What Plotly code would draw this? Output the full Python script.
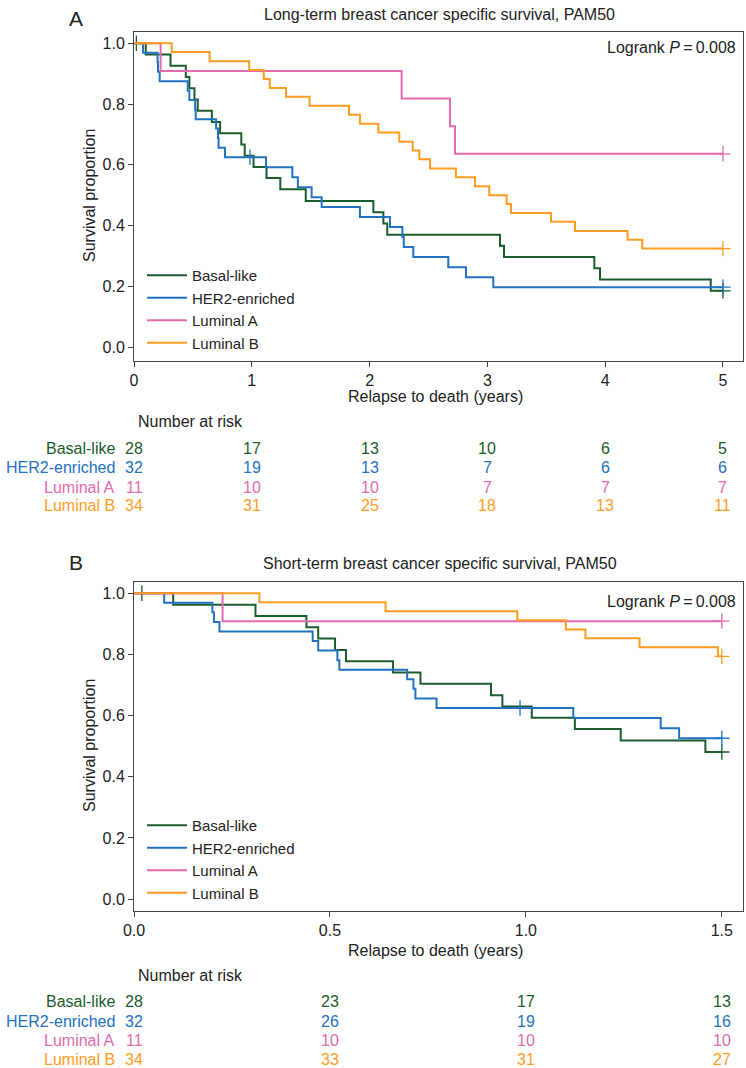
import plotly.graph_objects as go

# ---------------- data ----------------
groups = ["Basal-like", "HER2-enriched", "Luminal A", "Luminal B"]
colors = ["#1b5c2d", "#2272c3", "#e36aae", "#ff9c1f"]

basal_times = [0.10, 0.31, 0.44, 0.47, 0.513, 0.541, 0.661, 0.731, 0.911, 0.94, 1.015,
               1.125, 1.242, 1.458, 2.032, 2.117, 2.15, 3.107, 3.141, 3.908, 3.956, 4.896]
basal_surv = [0.963, 0.926, 0.889, 0.852, 0.815, 0.778, 0.741, 0.704, 0.667, 0.630, 0.593,
              0.556, 0.519, 0.481, 0.444, 0.407, 0.370, 0.333, 0.296, 0.259, 0.222, 0.185]
basal_censor = [0.02]

her2_times = [0.077, 0.20, 0.204, 0.218, 0.456, 0.47, 0.519, 0.524, 0.697, 0.713, 0.718,
              0.772, 1.121, 1.344, 1.391, 1.508, 1.593, 1.918, 2.173, 2.278, 2.29, 2.371,
              2.668, 2.818, 3.05]
her2_surv = [0.969, 0.938, 0.906, 0.875, 0.844, 0.813, 0.781, 0.750, 0.719, 0.688, 0.656,
             0.625, 0.592, 0.559, 0.526, 0.493, 0.461, 0.428, 0.395, 0.362, 0.329, 0.296,
             0.263, 0.230, 0.197]
her2_censor = [0.985]

luma_times = [0.226, 2.272, 2.683, 2.725]
luma_surv = [0.909, 0.818, 0.727, 0.636]
luma_censor = []

lumb_times = [0.32, 0.642, 0.978, 1.102, 1.152, 1.29, 1.49, 1.825, 1.918, 2.074, 2.252,
              2.366, 2.422, 2.513, 2.733, 2.895, 3.016, 3.164, 3.20, 3.54, 3.744, 4.19, 4.315]
lumb_surv = [0.971, 0.941, 0.912, 0.882, 0.853, 0.824, 0.794, 0.765, 0.735, 0.706, 0.676,
             0.647, 0.618, 0.588, 0.559, 0.529, 0.500, 0.471, 0.441, 0.412, 0.382, 0.353, 0.324]
lumb_censor = []

end_A = 5.0
end_B = 1.5

risk_times_A = [0, 1, 2, 3, 4, 5]
risk_basal_A = [28, 17, 13, 10, 6, 5]
risk_her2_A = [32, 19, 13, 7, 6, 6]
risk_luma_A = [11, 10, 10, 7, 7, 7]
risk_lumb_A = [34, 31, 25, 18, 13, 11]

risk_times_B = [0, 0.5, 1.0, 1.5]
risk_basal_B = [28, 23, 17, 13]
risk_her2_B = [32, 26, 19, 16]
risk_luma_B = [11, 10, 10, 10]
risk_lumb_B = [34, 33, 31, 27]

title_A = "Long-term breast cancer specific survival, PAM50"
title_B = "Short-term breast cancer specific survival, PAM50"
xtitle = "Relapse to death (years)"
ytitle = "Survival proportion"
logrank = "Logrank <i>P</i>\u2009=\u20090.008"

series = [
    (basal_times, basal_surv, basal_censor),
    (her2_times, her2_surv, her2_censor),
    (luma_times, luma_surv, luma_censor),
    (lumb_times, lumb_surv, lumb_censor),
]
risk_A = [risk_basal_A, risk_her2_A, risk_luma_A, risk_lumb_A]
risk_B = [risk_basal_B, risk_her2_B, risk_luma_B, risk_lumb_B]

# ---------------- helpers ----------------
def surv_at(times, surv, t):
    s = 1.0
    for ti, si in zip(times, surv):
        if ti <= t:
            s = si
    return s

def step_xy(times, surv, end):
    xs, ys = [0.0], [1.0]
    for ti, si in zip(times, surv):
        if ti <= end:
            xs.append(ti)
            ys.append(si)
    xs.append(end)
    ys.append(ys[-1])
    return xs, ys

FONT = "Liberation Sans, Arial, Helvetica, sans-serif"
TXT = "#222222"
W, H = 746, 1068
FS = 16

fig = go.Figure()

for panel, (end, xa, ya, leg) in enumerate([(end_A, "x", "y", "legend"),
                                             (end_B, "x2", "y2", "legend2")]):
    for g, col, (tt, ss, cc) in zip(groups, colors, series):
        xs, ys = step_xy(tt, ss, end)
        fig.add_trace(go.Scatter(
            x=xs, y=ys, mode="lines", line=dict(color=col, width=2, shape="hv"),
            name=g, xaxis=xa, yaxis=ya, legend=leg, showlegend=True, hoverinfo="skip"))
        cens = [c for c in cc if c <= end] + [end]
        fig.add_trace(go.Scatter(
            x=cens, y=[surv_at(tt, ss, c) for c in cens], mode="markers",
            marker=dict(symbol="cross-thin", size=11, line=dict(color=col, width=1.3)),
            xaxis=xa, yaxis=ya, showlegend=False, hoverinfo="skip"))

def py(px):
    return 1 - px / H

def pxx(px):
    return px / W

axis_common = dict(showline=True, linecolor="#444444", linewidth=1, mirror=True,
                   ticks="outside", ticklen=5, tickcolor="#444444", showgrid=False,
                   zeroline=False, automargin=False,
                   tickfont=dict(family=FONT, size=FS, color=TXT))

leg_common = dict(xanchor="left", yanchor="bottom", bgcolor="rgba(0,0,0,0)",
                  font=dict(family=FONT, size=15, color=TXT), itemwidth=40,
                  tracegroupgap=0)

fig.update_layout(
    width=W, height=H, margin=dict(l=0, r=0, t=0, b=0, pad=0),
    paper_bgcolor="white", plot_bgcolor="white",
    font=dict(family=FONT, color=TXT, size=FS),
    xaxis=dict(domain=[pxx(134), pxx(743)], range=[0, 5.17], anchor="y",
               tickvals=[0, 1, 2, 3, 4, 5], **axis_common),
    yaxis=dict(domain=[py(361), py(31.7)], range=[-0.046, 1.038], anchor="x",
               tickvals=[0, 0.2, 0.4, 0.6, 0.8, 1.0], tickformat=".1f", **axis_common),
    xaxis2=dict(domain=[pxx(134), pxx(743)], range=[0, 1.554], anchor="y2",
                tickvals=[0, 0.5, 1.0, 1.5], tickformat=".1f", **axis_common),
    yaxis2=dict(domain=[py(911), py(581.7)], range=[-0.039, 1.038], anchor="x2",
                tickvals=[0, 0.2, 0.4, 0.6, 0.8, 1.0], tickformat=".1f", **axis_common),
    legend=dict(x=pxx(142), y=py(359), **leg_common),
    legend2=dict(x=pxx(142), y=py(909), **leg_common),
)

def note(text, x, y, xref="paper", xanchor="center", size=FS, color=TXT, angle=0):
    return dict(text=text, x=x, y=y, xref=xref, yref="paper", xanchor=xanchor,
                yanchor="middle", showarrow=False, textangle=angle,
                font=dict(size=size, family=FONT, color=color))

ann = []
for lab, ylab, ytit, ylog, ymid, yxt, ynar, rows, rtimes, risk, xr in [
    ("A", 18, 14, 47, 196, 397, 422, [448, 467, 487, 506], risk_times_A, risk_A, "x"),
    ("B", 562, 563, 601, 746, 950, 975, [1001, 1021, 1040, 1059], risk_times_B, risk_B, "x2"),
]:
    ann.append(note(lab, pxx(76), py(ylab), size=21))
    ann.append(note(title_A if lab == "A" else title_B, pxx(440), py(ytit)))
    ann.append(note(logrank, pxx(738), py(ylog), xanchor="right"))
    ann.append(note(ytitle, pxx(89), py(ymid), angle=-90))
    ann.append(note(xtitle, pxx(436), py(yxt)))
    ann.append(note("Number at risk", pxx(136), py(ynar), xanchor="left"))
    for g, col, ry, vals in zip(groups, colors, rows, risk):
        ann.append(note(g, pxx(117), py(ry), xanchor="right", color=col))
        for t, v in zip(rtimes, vals):
            ann.append(note(str(v), t, py(ry), xref=xr, color=col))

fig.update_layout(annotations=ann)
fig.write_html("out.html", config={"displayModeBar": False},
               post_script="document.body.style.margin='0';document.body.style.overflow='hidden';")
